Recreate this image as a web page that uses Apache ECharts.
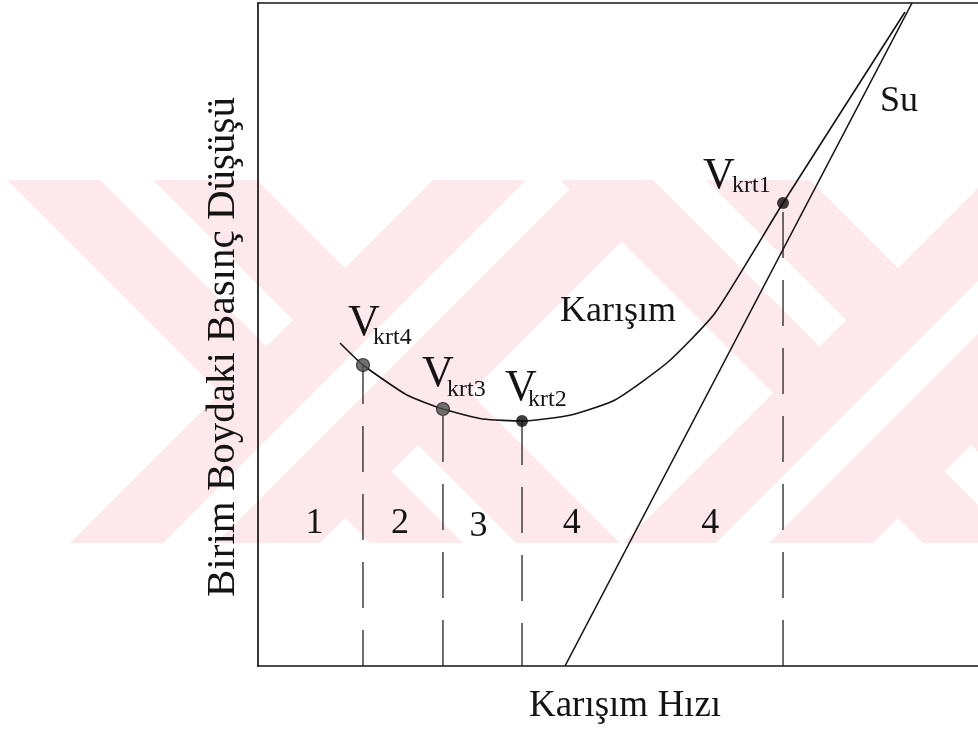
<!DOCTYPE html>
<html>
<head>
<meta charset="utf-8">
<script src="https://cdn.jsdelivr.net/npm/echarts@6/dist/echarts.min.js"></script>
<style>
  html, body { margin: 0; padding: 0; background: #ffffff; }
  #chart { width: 978px; height: 729px; }
</style>
</head>
<body>
<div id="chart"></div>
<script>
// Pressure drop per unit length vs. mixture velocity (arbitrary units, 0-100 on both axes)
const mixVelocity   = [11.39, 14.58, 20.69, 25.69, 31.25, 36.67, 43.47, 49.58, 56.94, 63.47, 72.92, 89.86];
const mixGradient   = [48.72, 45.40, 40.87, 38.76, 37.25, 36.95, 37.86, 40.12, 45.85, 53.24, 69.83, 98.64];
const waterVelocity = [42.64, 90.83];
const waterGradient = [0, 100];
const criticalNames    = ['krt4', 'krt3', 'krt2', 'krt1'];
const criticalVelocity = [14.58, 25.69, 36.67, 72.92];
const criticalGradient = [45.40, 38.76, 36.95, 69.83];
const regionLabels = ['1', '2', '3', '4', '4'];
const regionLabelLevel = 21.5;   // height of the region numbers on the y scale
const xTitle = 'Karışım Hızı';
const yTitle = 'Birim Boydaki Basınç Düşüşü';
const mixName = 'Karışım';
const waterName = 'Su';

const FONT = '"Liberation Serif", "Times New Roman", serif';
const INK = '#141414';

const chart = echarts.init(document.getElementById('chart'), null, { renderer: 'canvas' });

const mixData = mixVelocity.map((v, i) => [v, mixGradient[i]]);
const waterData = waterVelocity.map((v, i) => [v, waterGradient[i]]);

// dashed drop lines, drawn upward from the velocity axis to each critical point
const dropOffsets = [10, 0, 3, 0];
const dropSeries = criticalVelocity.map((v, i) => ({
  type: 'line',
  name: 'drop-' + criticalNames[i],
  data: [[v, 0], [v, criticalGradient[i]]],
  symbol: 'none',
  silent: true,
  z: 2,
  lineStyle: { color: '#222', width: 1.3, type: [46, 22], dashOffset: dropOffsets[i] }
}));

const dotStyles = [
  { color: '#4d4d4d', borderColor: '#1e1e1e', borderWidth: 1.2 },
  { color: '#4d4d4d', borderColor: '#1e1e1e', borderWidth: 1.2 },
  { color: '#0a0a0a' },
  { color: '#0a0a0a' }
];
const dotSizes = [13, 13, 12, 12];

const hiddenAxisParts = { axisTick: { show: false }, axisLabel: { show: false }, splitLine: { show: false } };

chart.setOption({
  animation: false,
  backgroundColor: '#ffffff',
  grid: { left: 258, right: 0, top: 3, bottom: 63 },
  xAxis: [
    Object.assign({ type: 'value', min: 0, max: 100, position: 'bottom',
      axisLine: { show: true, onZero: false, lineStyle: { color: INK, width: 1.7 } } }, hiddenAxisParts),
    Object.assign({ type: 'value', min: 0, max: 100, position: 'top',
      axisLine: { show: true, onZero: false, lineStyle: { color: INK, width: 1.7 } } }, hiddenAxisParts)
  ],
  yAxis: Object.assign({ type: 'value', min: 0, max: 100,
    axisLine: { show: true, onZero: false, lineStyle: { color: INK, width: 1.7 } } }, hiddenAxisParts),
  series: [
    {
      type: 'line', name: mixName, data: mixData, smooth: 0.18, symbol: 'none', z: 3,
      lineStyle: { color: INK, width: 1.6 }
    },
    {
      type: 'line', name: waterName, data: waterData, symbol: 'none', z: 3,
      lineStyle: { color: INK, width: 1.6 }
    },
    ...dropSeries,
    {
      type: 'scatter', name: 'critical',
      data: criticalVelocity.map((v, i) => ({ value: [v, criticalGradient[i]], itemStyle: dotStyles[i], symbolSize: dotSizes[i] })),
      z: 5
    }
  ]
});

// ---- background emblem: two interlaced double-stroke crosses in pale pink ----
const WM = { top: 180, bottom: 543, arm: 250, gapFrom: 93, gapTo: 146, cross: 426, origins: [7, 560] };
const PINK = '#fde8ec';
const wmShapes = [];
const band = (x0, x1, dir, fill) => {
  const h = WM.bottom - WM.top;
  wmShapes.push({
    type: 'polygon', silent: true, z: -5,
    shape: { points: [[x0, WM.top], [x1, WM.top], [x1 + dir * h, WM.bottom], [x0 + dir * h, WM.bottom]] },
    style: { fill: fill }
  });
};
WM.origins.forEach(o => {
  band(o, o + WM.arm, 1, PINK);
  band(o + WM.gapFrom, o + WM.gapTo, 1, '#ffffff');
  const f = o + WM.cross;
  band(f, f + WM.arm, -1, PINK);
  band(f + WM.gapFrom, f + WM.gapTo, -1, '#ffffff');
});

// ---- text annotations, anchored to the data through the axes ----
const px = (x, y) => chart.convertToPixel({ gridIndex: 0 }, [x, y]);
const texts = [];
const txt = (x, y, s, size, align, extra) => texts.push(Object.assign({
  type: 'text', x: x, y: y, z: 10, silent: true,
  style: { text: s, font: size + 'px ' + FONT, fill: INK, align: align || 'left', verticalAlign: 'middle' }
}, extra || {}));
const base = (b, size) => b - 0.32 * size;   // convert a baseline to the middle of the line box

// V_krt labels: offsets of the "V" and the subscript from the marker
const labelOffsets = [
  { v: [-15, -27], s: [10, -20] },
  { v: [-21, -21], s: [4, -12] },
  { v: [-17, -19], s: [6, -14] },
  { v: [-80, -13], s: [-51, -10] }
];
criticalVelocity.forEach((v, i) => {
  const p = px(v, criticalGradient[i]);
  const o = labelOffsets[i];
  txt(p[0] + o.v[0], base(p[1] + o.v[1], 44), 'V', 44);
  txt(p[0] + o.s[0], base(p[1] + o.s[1], 24), criticalNames[i], 24);
});

// region numbers: centred between neighbouring boundaries at one level
const waterAt = y => waterVelocity[0] + (waterVelocity[1] - waterVelocity[0]) * (y - waterGradient[0]) / (waterGradient[1] - waterGradient[0]);
const bounds = [0, criticalVelocity[0], criticalVelocity[1], criticalVelocity[2], waterAt(regionLabelLevel), criticalVelocity[3]];
const regionNudge = [[4, 0], [-3, 0], [-4, 3], [-9, 0], [-1, 0]];
regionLabels.forEach((s, i) => {
  const mid = (bounds[i] + bounds[i + 1]) / 2;
  const p = px(mid, regionLabelLevel);
  txt(p[0] + regionNudge[i][0], p[1] + regionNudge[i][1], s, 36, 'center');
});

// curve names
const mixLabelAt = px(mixVelocity[7], mixGradient[7]);
txt(mixLabelAt[0] - 55, base(mixLabelAt[1] - 77, 36), mixName, 36);
const waterLabelAt = px(waterVelocity[1], waterGradient[1]);
txt(waterLabelAt[0] - 32, base(waterLabelAt[1] + 110, 36), waterName, 36);

// axis titles
const g0 = px(0, 0);
txt(625, base(g0[1] + 52, 37), xTitle, 37, 'center');
txt(223, 347, yTitle, 41, 'center', { rotation: Math.PI / 2 });

chart.setOption({ graphic: wmShapes.concat(texts) });
</script>
</body>
</html>
